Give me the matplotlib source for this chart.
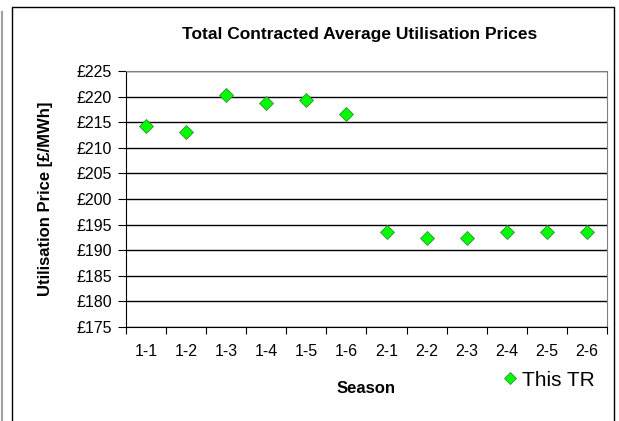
import numpy as np
import matplotlib
matplotlib.use("Agg")
import matplotlib.pyplot as plt
from matplotlib.lines import Line2D

seasons = ["1-1", "1-2", "1-3", "1-4", "1-5", "1-6",
           "2-1", "2-2", "2-3", "2-4", "2-5", "2-6"]
prices = [214.2, 213.1, 220.4, 218.7, 219.3, 216.6,
          193.6, 192.3, 192.3, 193.6, 193.6, 193.6]
yticks = np.arange(175, 226, 5)

plt.rcParams['font.family'] = ['Liberation Sans', 'DejaVu Sans']

W, H = 619, 421
fig = plt.figure(figsize=(W / 100, H / 100), dpi=100)
ax = fig.add_axes([126 / W, 1 - 327 / H, (607 - 126) / W, (327 - 71) / H])

x = np.arange(len(seasons))
ax.plot(x, prices, linestyle='none', marker='D', ms=7.5,
        mfc='#00ff00', mec='#3a8a3a', mew=0.6, label='This TR', zorder=3)

ax.set_xlim(-0.5, len(seasons) - 0.5)
ax.set_ylim(175, 225)
ax.set_yticks(yticks)
ax.set_yticklabels(["£%d" % v for v in yticks], fontsize=11.5)
ax.yaxis.grid(True, color='black', lw=1)
ax.set_axisbelow(True)

ax.set_xticks(np.arange(-0.5, len(seasons)), labels=[])
ax.set_xticks(x, labels=seasons, minor=True, fontsize=11.5)
ax.tick_params(axis='x', which='minor', length=0, pad=12)
ax.tick_params(axis='x', which='major', length=5, color='black')
ax.tick_params(axis='y', length=6, color='black', pad=4)

for s in ['top', 'right']:
    ax.spines[s].set_color('#808080')
for s in ['left', 'bottom']:
    ax.spines[s].set_color('black')

ax.set_title("Total Contracted Average Utilisation Prices",
             fontsize=12.5, fontweight='bold', pad=23, x=0.486)
ax.set_xlabel("Season", fontsize=12, fontweight='bold', labelpad=16)
ax.set_ylabel("Utilisation Price [£/MWh]", fontsize=12, fontweight='bold', labelpad=17)

ax.legend(loc='center left', bbox_to_anchor=(491 / W, 1 - 380 / H),
          bbox_transform=fig.transFigure, frameon=False, fontsize=15,
          handletextpad=0.2, handlelength=0.8, borderpad=0, markerscale=0.85)

# outer chart frame and page edge
fig.add_artist(Line2D([12 / W, 12 / W, 614 / W, 614 / W], [0, 1 - 7 / H, 1 - 7 / H, 0],
                      transform=fig.transFigure, color='black', lw=1))
fig.add_artist(Line2D([2 / W, 2 / W], [0, 1 - 12 / H],
                      transform=fig.transFigure, color='#a0a0a0', lw=1.5))

fig.savefig("out.png", dpi=100)
